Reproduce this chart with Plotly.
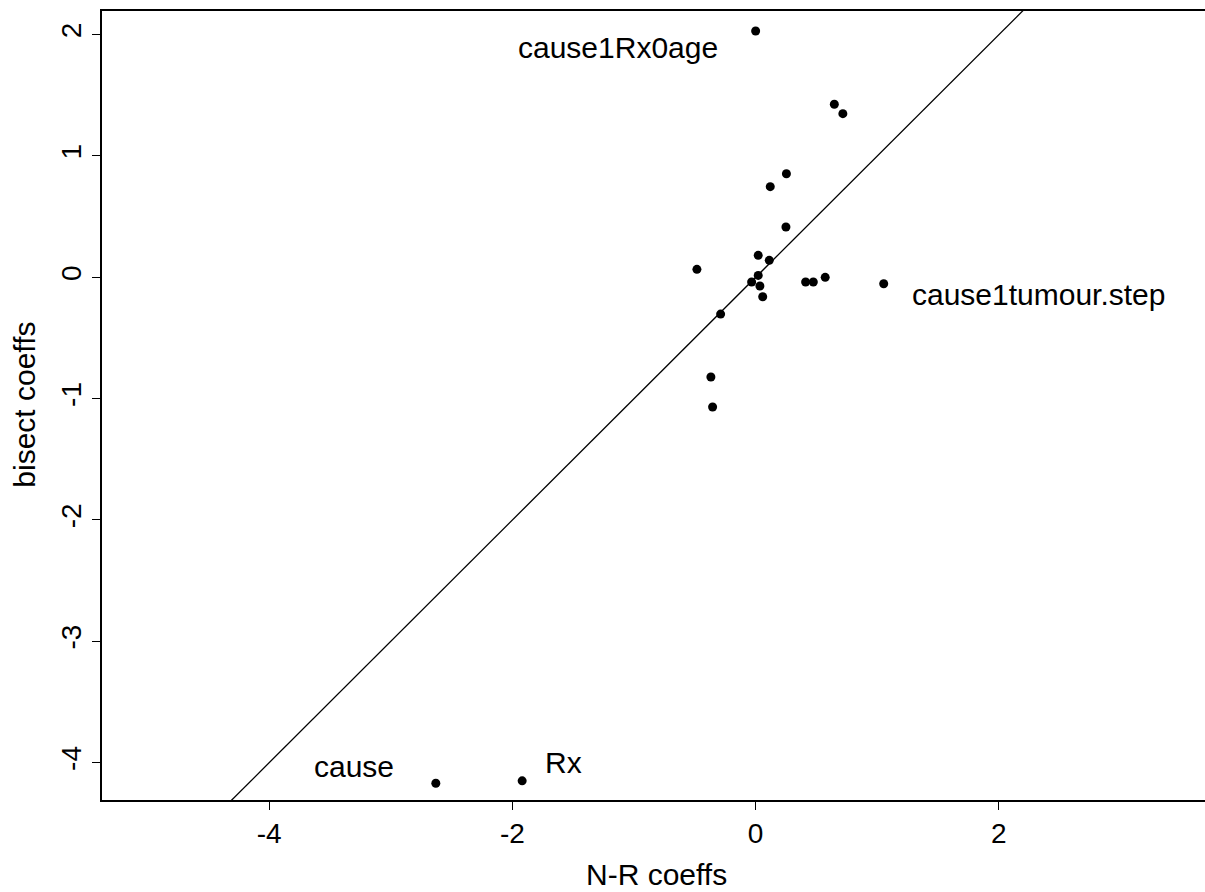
import plotly.graph_objects as go

# Coefficient estimates: Newton-Raphson fit (x) against bisection fit (y)
nr_coeffs = [0.00, 0.647, 0.717, 0.253, 0.120, 0.249, 0.021, 0.112, -0.483,
             0.021, -0.033, 0.035, 0.058, 0.411, 0.474, 0.572, 1.053,
             -0.288, -0.368, -0.354, -2.63, -1.92]
bisect_coeffs = [2.03, 1.426, 1.349, 0.854, 0.747, 0.415, 0.181, 0.140, 0.066,
                 0.016, -0.039, -0.072, -0.160, -0.039, -0.039, 0.0, -0.053,
                 -0.303, -0.822, -1.069, -4.17, -4.15]

# Labelled coefficients: (name, x, y, xanchor, xshift, yshift)
labels = [
    ("cause1Rx0age", 0.00, 2.03, "right", -36, -16),
    ("cause1tumour.step", 1.053, -0.053, "left", 26, -11),
    ("cause", -2.63, -4.17, "right", -40, 17),
    ("Rx", -1.92, -4.15, "left", 21, 18),
]

x_ticks = [-4, -2, 0, 2]
y_ticks = [-4, -3, -2, -1, 0, 1, 2]
x_range = [-5.375, 3.695]
y_range = [-4.308, 2.195]

FONT = "Liberation Sans, Arial, Helvetica, sans-serif"
TEXT_FS = 30
TICK_FS = 28

fig = go.Figure()

# identity line y = x
fig.add_trace(go.Scatter(
    x=[x_range[0] - 1, x_range[1] + 1], y=[x_range[0] - 1, x_range[1] + 1],
    mode="lines", line=dict(color="black", width=1.3),
    hoverinfo="skip", showlegend=False))

fig.add_trace(go.Scatter(
    x=nr_coeffs, y=bisect_coeffs, mode="markers",
    marker=dict(color="black", size=9), showlegend=False))

for name, lx, ly, anchor, dx, dy in labels:
    fig.add_annotation(x=lx, y=ly, text=name, showarrow=False,
                       xanchor=anchor, yanchor="middle",
                       xshift=dx, yshift=dy,
                       font=dict(family=FONT, size=TEXT_FS, color="black"))

fig.add_annotation(xref="paper", yref="paper", x=0.503, y=-0.094,
                   text="N-R coeffs", showarrow=False,
                   xanchor="center", yanchor="middle",
                   font=dict(family=FONT, size=TEXT_FS, color="black"))
fig.add_annotation(xref="paper", yref="paper", x=-0.071, y=0.5006,
                   text="bisect coeffs", showarrow=False, textangle=-90,
                   xanchor="center", yanchor="middle",
                   font=dict(family=FONT, size=TEXT_FS, color="black"))

fig.update_xaxes(range=x_range, tickvals=x_ticks, ticktext=[str(v) for v in x_ticks],
                 showline=True, mirror=True, linecolor="black", linewidth=1.5,
                 ticks="outside", ticklen=8, tickwidth=1.2, tickcolor="black",
                 showgrid=False, zeroline=False,
                 tickfont=dict(family=FONT, size=TICK_FS, color="black"))
fig.update_yaxes(range=y_range, tickvals=y_ticks, ticktext=[str(v) for v in y_ticks],
                 showline=True, mirror=False, linecolor="black", linewidth=1.5,
                 ticks="outside", ticklen=8, tickwidth=1.2, tickcolor="black",
                 tickangle=-90,
                 showgrid=False, zeroline=False,
                 tickfont=dict(family=FONT, size=TICK_FS, color="black"))

fig.update_layout(
    width=1205, height=892,
    margin=dict(l=102, r=0, t=11, b=92),
    paper_bgcolor="white", plot_bgcolor="white",
    showlegend=False,
)

fig.write_html("out.html")
